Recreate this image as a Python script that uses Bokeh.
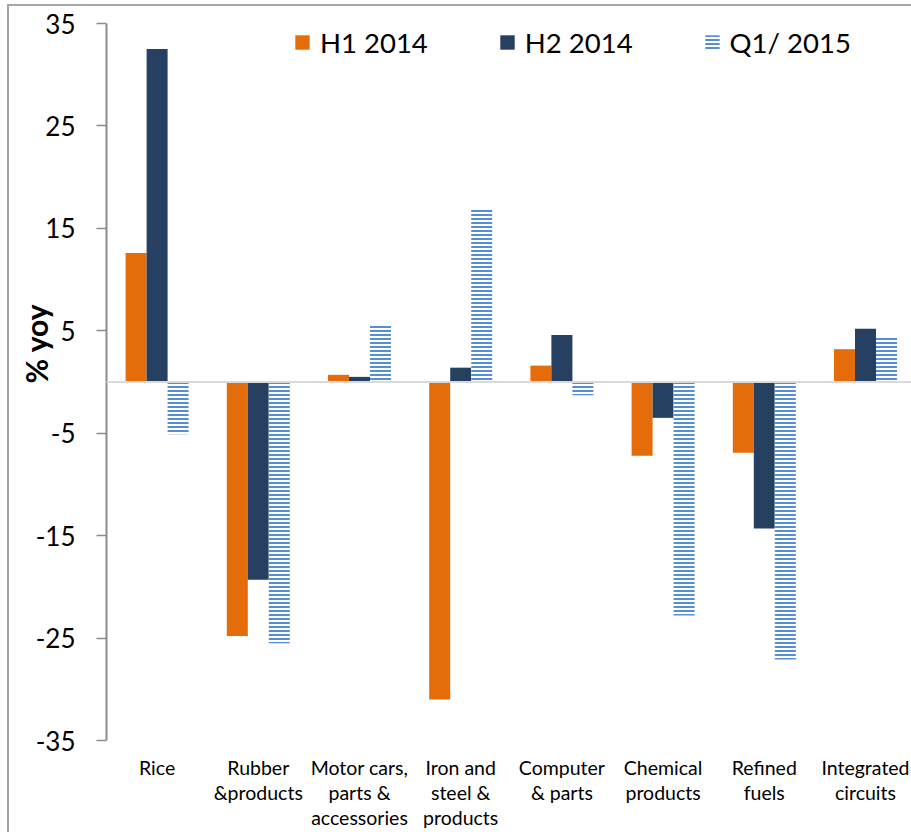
import math
from bokeh.plotting import figure
from bokeh.models import (Range1d, FixedTicker, Span, Legend, LegendItem,
                          ColumnDataSource, Title)
from bokeh.transform import dodge
from bokeh.embed import file_html
from bokeh.resources import INLINE

# ---- data ----
categories = ["Rice", "Rubber\n&products", "Motor cars,\nparts &\naccessories",
              "Iron and\nsteel &\nproducts", "Computer\n& parts", "Chemical\nproducts",
              "Refined\nfuels", "Integrated\ncircuits"]
h1_2014 = [12.6, -24.8, 0.7, -31.0, 1.6, -7.2, -6.9, 3.2]
h2_2014 = [32.5, -19.3, 0.5, 1.4, 4.6, -3.5, -14.3, 5.2]
q1_2015 = [-5.1, -25.5, 5.5, 16.9, -1.3, -22.8, -27.1, 4.4]
series_names = ["H1 2014", "H2 2014", "Q1/ 2015"]
y_ticks = [-35, -25, -15, -5, 5, 15, 25, 35]
y_title = "% yoy"

FONT = "Lato"
ORANGE = "#e46c0a"
NAVY = "#254061"
BLUE = "#558ed5"
AXIS_GRAY = "#8c8c8c"

W, H = 911, 832
left, top, frame_h = 106, 23, 717
cat_px = 101.2          # pixels per category
frame_w = W - left
bw = 0.2075             # bar width in category units

src = ColumnDataSource(dict(x=list(range(len(categories))),
                            h1=h1_2014, h2=h2_2014, q1=q1_2015))

p = figure(width=W, height=H,
           x_range=Range1d(-0.5, -0.5 + frame_w / cat_px),
           y_range=Range1d(-35, 35),
           output_backend="svg", toolbar_location=None,
           min_border_left=left, min_border_right=0,
           min_border_top=top, min_border_bottom=H - top - frame_h)
p.styles = {"background": "white",
            "box-shadow": "inset 7px 4px 0 0 #ffffff, inset 9px 6px 0 0 #a6a6a6"}
p.border_fill_alpha = 0
p.xgrid.visible = False
p.ygrid.visible = False
p.outline_line_color = None
p.background_fill_color = "white"

r1 = p.vbar(x=dodge("x", -bw, range=p.x_range), top="h1", bottom=0, width=bw,
            source=src, fill_color=ORANGE, line_color=None)
r2 = p.vbar(x=dodge("x", 0, range=p.x_range), top="h2", bottom=0, width=bw,
            source=src, fill_color=NAVY, line_color=None)
r3 = p.vbar(x=dodge("x", bw, range=p.x_range), top="q1", bottom=0, width=bw,
            source=src, fill_color="white", line_color=None,
            hatch_pattern="horizontal_line", hatch_color=BLUE,
            hatch_scale=4, hatch_weight=2)

p.add_layout(Span(location=0, dimension="width", line_color="#d9d9d9", line_width=2))

# x axis
xa = p.xaxis[0]
xa.ticker = FixedTicker(ticks=list(range(len(categories))))
xa.major_label_overrides = {i: c for i, c in enumerate(categories)}
xa.axis_line_color = None
xa.major_tick_line_color = None
xa.minor_tick_line_color = None
xa.major_label_text_font = FONT
xa.major_label_text_font_size = "19.5px"
xa.major_label_text_color = "black"
xa.major_label_text_line_height = 1.1
xa.major_label_standoff = 9

# y axis
ya = p.yaxis[0]
ya.ticker = FixedTicker(ticks=y_ticks)
ya.major_label_overrides = {t: str(t) for t in y_ticks}
ya.axis_line_color = AXIS_GRAY
ya.axis_line_width = 2
ya.major_tick_line_color = AXIS_GRAY
ya.major_tick_line_width = 1.5
ya.major_tick_out = 10
ya.major_tick_in = 0
ya.minor_tick_line_color = None
ya.major_label_text_font = FONT
ya.major_label_text_font_size = "26px"
ya.major_label_text_color = "black"
ya.major_label_standoff = 21

p.add_layout(Title(text=y_title, align="left", offset=357, standoff=-42,
                   text_font=FONT, text_font_style="bold", text_font_size="30px",
                   text_color="black"), "left")

legend = Legend(items=[LegendItem(label=series_names[0], renderers=[r1]),
                       LegendItem(label=series_names[1], renderers=[r2]),
                       LegendItem(label=series_names[2], renderers=[r3])],
                orientation="horizontal", location=(187, 681),
                glyph_width=18, glyph_height=18, label_standoff=9, spacing=70,
                padding=0, margin=0, border_line_color=None,
                background_fill_alpha=0, label_text_font=FONT,
                label_text_font_size="27.5px", label_text_color="black",
                label_height=34)
p.add_layout(legend)

open("out.html", "w").write(file_html(p, INLINE))
